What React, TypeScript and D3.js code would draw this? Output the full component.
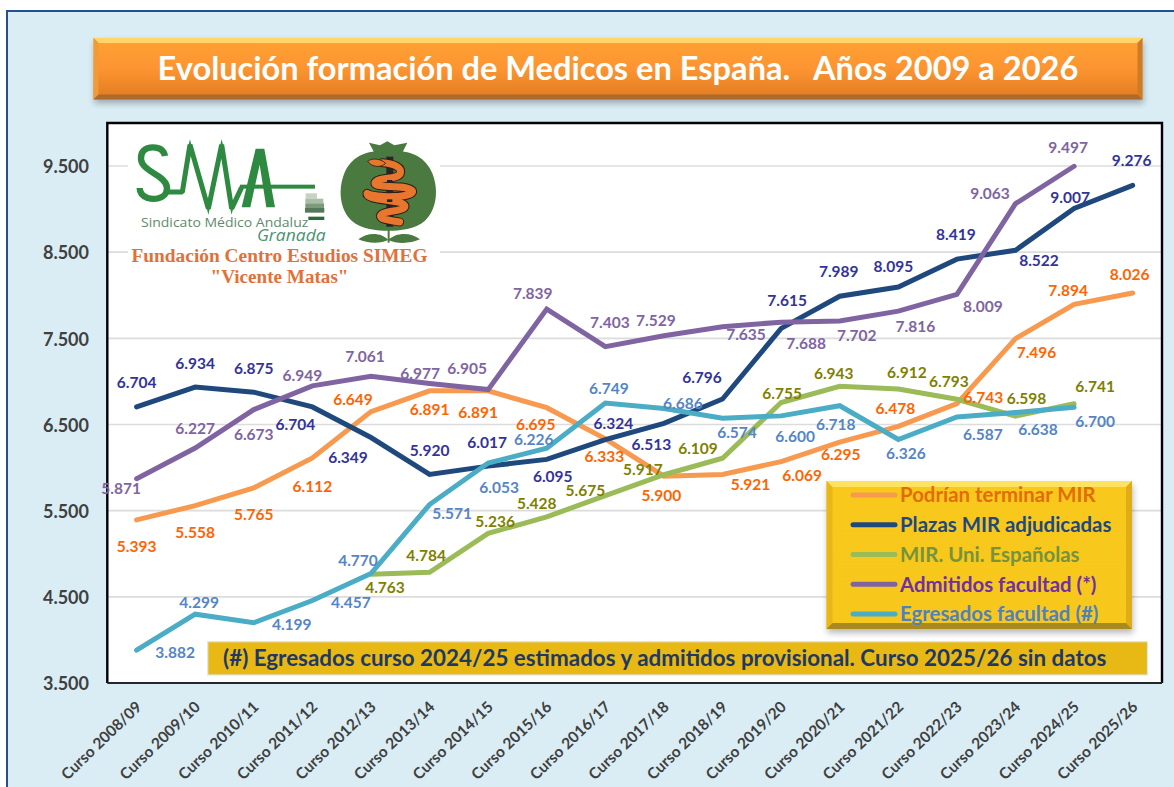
import React from "react";
import * as d3 from "d3";

const categories = ["Curso 2008/09","Curso 2009/10","Curso 2010/11","Curso 2011/12","Curso 2012/13","Curso 2013/14","Curso 2014/15","Curso 2015/16","Curso 2016/17","Curso 2017/18","Curso 2018/19","Curso 2019/20","Curso 2020/21","Curso 2021/22","Curso 2022/23","Curso 2023/24","Curso 2024/25","Curso 2025/26"];
const yTicks = [3500, 4500, 5500, 6500, 7500, 8500, 9500];

const podrianValues = [5393,5558,5765,6112,6649,6891,6891,6695,6333,5900,5921,6069,6295,6478,6743,7496,7894,8026];
const plazasValues = [6704,6934,6875,6704,6349,5920,6017,6095,6324,6513,6796,7615,7989,8095,8419,8522,9007,9276];
const uniValues = [null,null,null,null,4763,4784,5236,5428,5675,5917,6109,6755,6943,6912,6793,6598,6741,null];
const admitidosValues = [5871,6227,6673,6949,7061,6977,6905,7839,7403,7529,7635,7688,7702,7816,8009,9063,9497,null];
const egresadosValues = [3882,4299,4199,4457,4770,5571,6053,6226,6749,6686,6574,6600,6718,6326,6587,6638,6700,null];

// label offsets from each point, [dx, dy] to the label's centre
const podrianOffsets = [[0,27],[0,27],[0,27],[0,28],[-18,-12],[0,19],[-10,22],[-11,17],[-1,18],[-2.5,19],[28,10],[21,14],[1,12],[-3,-18],[26.5,-6],[21,14],[-6,-14],[-3,-19]];
const plazasOffsets = [[0,-25],[0,-24],[0,-24],[-17,17],[-23,19.5],[0,-24.5],[-1,-24],[6,17.5],[8,-16],[-12.5,21.5],[-20.5,-22],[6,-28],[-1,-25],[-5,-21],[-1,-25],[23.5,10],[-4,-11.5],[-1,-25]];
const uniOffsets = [[0,0],[0,0],[0,0],[0,0],[14,13],[-3.5,-16.5],[7,-12],[-10,-13],[-20,-5],[-21,-5],[-24.5,-10],[1,-9.5],[-6,-13],[8.5,-17],[-8,-18],[11,-18],[21,-17],[0,0]];
const admitidosOffsets = [[-15.5,10],[0,-20],[0,25],[-10,-10],[-6,-20],[-9.5,-10],[-21,-21.5],[-14,-16],[4.5,-24],[-8,-15],[23.5,8],[25,21],[17,14],[17,15],[26,11.5],[-25.5,-10.5],[-6,-19],[0,0]];
const egresadosOffsets = [[38.5,2],[4,-12],[38,2],[38.5,1.5],[-13,-13.5],[22.5,8.5],[11,24],[-13,-9],[3.5,-15],[19,-5.5],[14.5,14],[14,21],[-4,19],[7.5,13.5],[26,17],[22.5,16.5],[21,14.5],[0,0]];

const seriesList = [
  { name: "Podrían terminar MIR", values: podrianValues, offsets: podrianOffsets, line: "#f79a4f", label: "#ff6400", legend: "#e36c0a" },
  { name: "Plazas MIR adjudicadas", values: plazasValues, offsets: plazasOffsets, line: "#1f497d", label: "#333399", legend: "#1f497d" },
  { name: "MIR. Uni. Españolas", values: uniValues, offsets: uniOffsets, line: "#9bbb59", label: "#7f7f00", legend: "#76923c" },
  { name: "Admitidos facultad (*)", values: admitidosValues, offsets: admitidosOffsets, line: "#8064a2", label: "#8064a2", legend: "#7030a0" },
  { name: "Egresados facultad (#)", values: egresadosValues, offsets: egresadosOffsets, line: "#4bacc6", label: "#5585c5", legend: "#4f81bd" },
];

const titleText = "Evolución formación de Medicos en España.   Años 2009 a 2026";
const noteText = "(#) Egresados curso 2024/25 estimados y admitidos provisional. Curso 2025/26 sin datos";

const FONT = "Lato, 'Open Sans', sans-serif";
const plot = { left: 107.3, right: 1162, top: 123, bottom: 683 };

const x = d3.scaleBand<string>().domain(categories).range([plot.left, plot.right]);
const y = d3.scaleLinear().domain([3500, 9500]).range([683, 166]);
const fmt = d3.formatLocale({ decimal: ",", thousands: ".", grouping: [3], currency: ["", ""] }).format(",");
const cx = (i: number) => (x(categories[i]) as number) + x.bandwidth() / 2;

function BevelBox({ x0, y0, x1, y1, b, top, left, right, bottom, fill }: any) {
  return (
    <g>
      <rect x={x0} y={y0} width={x1 - x0} height={y1 - y0} fill={`url(#${fill})`} filter="url(#shadow)" />
      <polygon points={`${x0},${y0} ${x1},${y0} ${x1 - b},${y0 + b} ${x0 + b},${y0 + b}`} fill={top} />
      <polygon points={`${x0},${y0} ${x0 + b},${y0 + b} ${x0 + b},${y1 - b} ${x0},${y1}`} fill={left} />
      <polygon points={`${x1},${y0} ${x1 - b},${y0 + b} ${x1 - b},${y1 - b} ${x1},${y1}`} fill={right} />
      <polygon points={`${x0},${y1} ${x0 + b},${y1 - b} ${x1 - b},${y1 - b} ${x1},${y1}`} fill={bottom} />
    </g>
  );
}

const snakePath = "M172,98 C205,100 232,112 226,130 C218,150 160,140 150,158 C146,178 240,160 262,182 C272,204 150,205 126,190 C122,214 235,208 240,228 C240,246 170,240 166,258 C170,272 200,270 224,276";

function Logo() {
  const green = "#2f8a41";
  return (
    <g>
      <rect x={128} y={136} width={312} height={152} fill="#fff" />
      <g transform="translate(125,130) scale(0.3333)">
        <path d="M120,78 C116,58 100,52 84,52 C60,52 46,66 48,88 C50,112 80,124 102,140 C122,154 130,170 124,186 C116,206 88,210 68,204 C52,198 44,188 44,174" fill="none" stroke={green} strokeWidth={19} />
        <path d="M120,186 L172,186 L195,44 L250,236 L290,44 L320,236 L350,172" fill="none" stroke={green} strokeWidth={15} strokeLinejoin="bevel" />
        <path d="M195,28 L203,60 L187,60 Z M290,28 L298,60 L282,60 Z M250,254 L242,220 L258,220 Z M320,254 L312,220 L328,220 Z" fill={green} />
        <rect x={345} y={164} width={225} height={12} fill={green} />
        <path d="M350,232 L392,56 L418,56 L450,232 L424,232 L404,104 L376,232 Z" fill={green} />
        <g>
          <rect x={542} y={190} width={34} height={16} fill="#c5d3c3" />
          <rect x={541} y={206} width={54} height={14} fill="#a9bea7" />
          <rect x={541} y={220} width={56} height={14} fill="#7d9b7a" />
          <rect x={540} y={234} width={58} height={14} fill="#56785a" />
          <rect x={550} y={260} width={48} height={10} fill="#2d6a3a" />
        </g>
        <text x={48} y={290} fontFamily="'Open Sans', sans-serif" fontSize={36} fill="#5f8a6b" textLength={502} lengthAdjust="spacingAndGlyphs">Sindicato Médico Andaluz</text>
        <text x={396} y={333} fontFamily="'Open Sans', sans-serif" fontStyle="italic" fontSize={50} fill="#4c9270" textLength={206} lengthAdjust="spacingAndGlyphs">Granada</text>
      </g>
      <g transform="translate(325,130) scale(0.3333)">
        <path d="M190,64 C250,58 300,76 322,130 C342,180 335,240 300,272 C270,298 225,302 190,302 C155,302 110,298 80,272 C45,240 38,180 58,130 C80,76 130,58 190,64 Z" fill="#4a7a3f" />
        <path d="M132,38 L165,46 L187,34 L208,46 L247,38 L230,72 L150,72 Z" fill="#4a7a3f" />
        <path d="M190,330 C170,308 130,305 100,328 C130,342 170,340 190,330 C215,342 255,342 285,328 C255,305 212,308 190,330 Z" fill="#4a7a3f" />
        <rect x={188} y={300} width={6} height={38} fill="#4a7a3f" />
        <rect x={184} y={80} width={21} height={210} fill="#27242a" />
        <path d={snakePath} fill="none" stroke="#2a1f18" strokeWidth={27} strokeLinecap="round" strokeLinejoin="round" />
        <path d={snakePath} fill="none" stroke="#e9762f" strokeWidth={21} strokeLinecap="round" strokeLinejoin="round" />
        <path d="M128,94 C140,84 165,84 182,100 C168,114 140,112 128,94 Z" fill="#e9762f" stroke="#2a1f18" strokeWidth={2.5} />
        <rect x={186} y={150} width={16} height={8} fill="#27242a" />
        <rect x={186} y={208} width={16} height={8} fill="#27242a" />
      </g>
      <text x={279.5} y={262} textAnchor="middle" fontFamily="'Liberation Serif', serif" fontWeight={700} fontSize={18.5} fill="#e2703a" textLength={296} lengthAdjust="spacingAndGlyphs">Fundación Centro Estudios SIMEG</text>
      <text x={279.5} y={283} textAnchor="middle" fontFamily="'Liberation Serif', serif" fontWeight={700} fontSize={18.5} fill="#e2703a" textLength={138} lengthAdjust="spacingAndGlyphs">"Vicente Matas"</text>
    </g>
  );
}

export default function App() {
  const lineGen = d3.line<number | null>()
    .defined((d) => d !== null)
    .x((_, i) => cx(i))
    .y((d) => y(d as number));

  return (
    <svg width={1174} height={787} style={{ position: "absolute", left: 0, top: 0, display: "block" }} fontFamily={FONT}>
      <defs>
        <linearGradient id="titleGrad" x1="0" y1="0" x2="0" y2="1">
          <stop offset="0" stopColor="#ffa234" />
          <stop offset="0.5" stopColor="#fc9430" />
          <stop offset="1" stopColor="#df7b22" />
        </linearGradient>
        <linearGradient id="legendGrad" x1="0" y1="0" x2="0" y2="1">
          <stop offset="0" stopColor="#f8c91e" />
          <stop offset="1" stopColor="#f7c71a" />
        </linearGradient>
        <filter id="shadow" x="-5%" y="-10%" width="110%" height="125%">
          <feDropShadow dx="1" dy="4" stdDeviation="3" floodColor="#000" floodOpacity="0.28" />
        </filter>
      </defs>

      <rect width={1174} height={787} fill="#fff" />
      <rect x={7} y={11} width={1180} height={790} fill="#daedf4" stroke="#24508c" strokeWidth={2} />

      <BevelBox x0={93.5} y0={38} x1={1142.5} y1={99.5} b={5} fill="titleGrad" top="#ffd468" left="#f09a38" right="#cf7a24" bottom="#ad6a2c" />
      <text x={618} y={80} textAnchor="middle" fill="#fff" fontWeight={700} fontSize={32.6} style={{ whiteSpace: "pre" }}>{titleText}</text>

      <rect x={plot.left} y={plot.top} width={plot.right - plot.left} height={plot.bottom - plot.top} fill="#fff" />

      {yTicks.slice(1).map((t) => (
        <line key={t} x1={plot.left} x2={plot.right} y1={y(t)} y2={y(t)} stroke="#dcdcdc" strokeWidth={1.6} />
      ))}
      <path d={`M${plot.left},${plot.bottom} V${plot.top} H${plot.right} V${plot.bottom}`} fill="none" stroke="#000" strokeWidth={2.4} />
      <line x1={plot.left} x2={plot.right} y1={plot.bottom} y2={plot.bottom} stroke="#262626" strokeWidth={1.8} />

      {yTicks.map((t) => (
        <text key={t} x={89} y={y(t)} dy="0.4em" textAnchor="end" fontWeight={700} fontSize={18} fill="#404040">{fmt(t)}</text>
      ))}
      {categories.map((c, i) => (
        <text key={c} transform={`translate(${cx(i) + 6},${708}) rotate(-44)`} textAnchor="end" fontWeight={700} fontSize={15.4} fill="#404040">{c}</text>
      ))}

      <Logo />

      {seriesList.map((s) => (
        <path key={s.name} d={lineGen(s.values) as string} fill="none" stroke={s.line} strokeWidth={5} strokeLinejoin="miter" strokeLinecap="round" />
      ))}

      {seriesList.map((s) =>
        s.values.map((v, i) =>
          v === null ? null : (
            <text key={s.name + i} x={cx(i) + s.offsets[i][0]} y={y(v) + s.offsets[i][1]} dy="0.36em" textAnchor="middle" fontWeight={700} fontSize={15.5} fill={s.label}>{fmt(v)}</text>
          )
        )
      )}

      <rect x={207.7} y={641.7} width={939.8} height={33.3} fill="#e8b914" stroke="#dde6ee" strokeWidth={1.2} />
      <text x={223} y={666} fontWeight={700} fontSize={22.4} fill="#1f3864">{noteText}</text>

      <BevelBox x0={826.5} y0={481} x1={1132} y1={629} b={6} fill="legendGrad" top="#fde35f" left="#e8b818" right="#dfae16" bottom="#a98a20" />
      {seriesList.map((s, i) => {
        const ly = 495 + i * 29.75;
        return (
          <g key={s.name}>
            <line x1={853} x2={895} y1={ly} y2={ly} stroke={s.line} strokeWidth={5} strokeLinecap="round" />
            <text x={900} y={ly} dy="0.36em" fontWeight={700} fontSize={20.4} fill={s.legend}>{s.name}</text>
          </g>
        );
      })}
    </svg>
  );
}
